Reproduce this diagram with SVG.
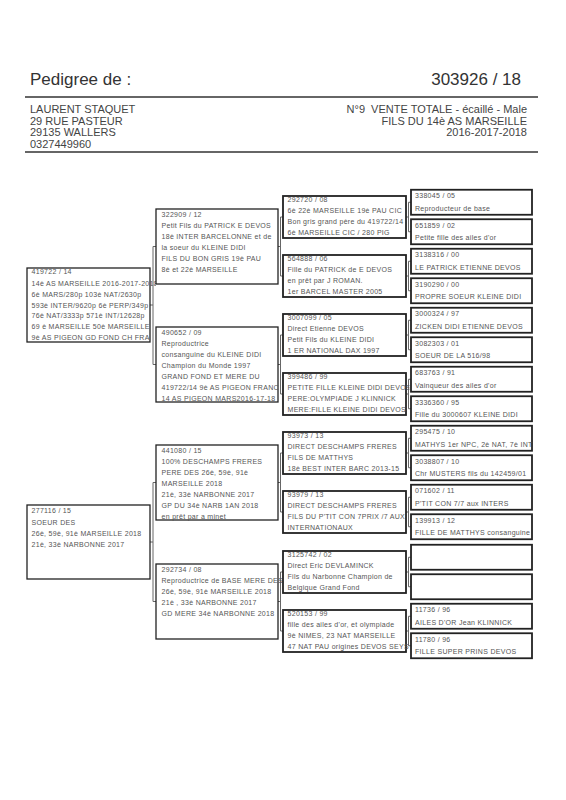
<svg xmlns="http://www.w3.org/2000/svg" width="566" height="800" viewBox="0 0 566 800">
<style>
.bg{fill:#fff}
.h1{font-family:"Liberation Sans",Arial,sans-serif;font-size:17px;fill:#333}
.h2{font-family:"Liberation Sans",Arial,sans-serif;font-size:11px;fill:#444;white-space:pre}
.rule{stroke:#333;stroke-width:1.3}
.t{font-family:"Liberation Sans",Arial,sans-serif;font-size:7px;letter-spacing:0.3px;fill:#555}
.b1{fill:#fff;stroke:#222;stroke-width:1.3}
.b3{fill:#fff;stroke:#222;stroke-width:1.8}
.c{stroke:#666;stroke-width:1;fill:none}
</style>
<defs>
<clipPath id="k1"><rect x="0" y="0" width="156" height="800"/></clipPath>
<clipPath id="k2"><rect x="0" y="0" width="283.5" height="800"/></clipPath>
<clipPath id="k3"><rect x="0" y="0" width="409.5" height="800"/></clipPath>
<clipPath id="k4"><rect x="0" y="0" width="533" height="800"/></clipPath>
</defs>
<rect class="bg" x="0" y="0" width="566" height="800"/>

<g id="header">
<text class="h1" x="30" y="85">Pedigree de :</text>
<text class="h1" x="521" y="85" text-anchor="end">303926 / 18</text>
<line class="rule" x1="25" y1="97" x2="538" y2="97"/>
<text class="h2" x="30" y="113">LAURENT STAQUET</text>
<text class="h2" x="30" y="124.5">29 RUE PASTEUR</text>
<text class="h2" x="30" y="136">29135 WALLERS</text>
<text class="h2" x="30" y="147.5">0327449960</text>
<text class="h2" x="527" y="113" text-anchor="end" xml:space="preserve">N°9  VENTE TOTALE - écaillé - Male</text>
<text class="h2" x="527" y="124.5" text-anchor="end">FILS DU 14è AS MARSEILLE</text>
<text class="h2" x="527" y="136" text-anchor="end">2016-2017-2018</text>
<line class="rule" x1="25" y1="152" x2="538" y2="152"/>
</g>

<g id="connectors">
<path class="c" d="M150 305H153M153 246.5V364.5M153 246.5H156M153 364.5H156"/>
<path class="c" d="M150 542H153M153 482.5V601.5M153 482.5H156M153 601.5H156"/>
<path class="c" d="M278 246.5H280.5M280.5 217V276M280.5 217H283M280.5 276H283"/>
<path class="c" d="M278 364.5H280.5M280.5 335V394M280.5 335H283M280.5 394H283"/>
<path class="c" d="M278 482.5H280.5M280.5 453V512M280.5 453H283M280.5 512H283"/>
<path class="c" d="M278 601.5H280.5M280.5 572V631M280.5 572H283M280.5 631H283"/>
<path class="c" d="M406 217H408.5M408.5 202.25V231.75M408.5 202.25H411M408.5 231.75H411"/>
<path class="c" d="M406 276H408.5M408.5 261.25V290.75M408.5 261.25H411M408.5 290.75H411"/>
<path class="c" d="M406 335H408.5M408.5 320.25V349.75M408.5 320.25H411M408.5 349.75H411"/>
<path class="c" d="M406 394H408.5M408.5 379.25V408.75M408.5 379.25H411M408.5 408.75H411"/>
<path class="c" d="M406 453H408.5M408.5 438.25V467.75M408.5 438.25H411M408.5 467.75H411"/>
<path class="c" d="M406 512H408.5M408.5 497.25V526.75M408.5 497.25H411M408.5 526.75H411"/>
<path class="c" d="M406 572H408.5M408.5 557.25V586.75M408.5 557.25H411M408.5 586.75H411"/>
<path class="c" d="M406 631H408.5M408.5 616.25V645.75M408.5 616.25H411M408.5 645.75H411"/>
</g>

<!-- Generation 1 -->
<g id="n419722">
<rect class="b1" x="27" y="268" width="123" height="74"/>
<g clip-path="url(#k1)">
<text class="t" x="31.5" y="274">419722 / 14</text>
<text class="t" x="31.5" y="286">14è AS MARSEILLE 2016-2017-2018</text>
<text class="t" x="31.5" y="296.8">6è MARS/280p 103è NAT/2630p</text>
<text class="t" x="31.5" y="307.6">593è INTER/9620p 6è PERP/349p</text>
<text class="t" x="31.5" y="318.4">76è NAT/3333p 571è INT/12628p</text>
<text class="t" x="31.5" y="329.2">69 è MARSEILLE 50è MARSEILLE</text>
<text class="t" x="31.5" y="340">9è AS PIGEON GD FOND CH FRA</text>
</g>
</g>
<g id="n277116">
<rect class="b1" x="27" y="505" width="123" height="74"/>
<text class="t" x="31.5" y="512.5">277116 / 15</text>
<text class="t" x="31.5" y="525">SOEUR DES</text>
<text class="t" x="31.5" y="535.8">26è, 59è, 91è MARSEILLE 2018</text>
<text class="t" x="31.5" y="546.6">21è, 33è NARBONNE 2017</text>
</g>

<!-- Generation 2 -->
<g id="n322909">
<rect class="b1" x="156" y="209" width="122" height="75"/>
<g clip-path="url(#k2)">
<text class="t" x="161.5" y="217">322909 / 12</text>
<text class="t" x="161.5" y="228">Petit Fils du PATRICK E DEVOS</text>
<text class="t" x="161.5" y="238.9">18è INTER BARCELONNE et de</text>
<text class="t" x="161.5" y="249.8">la soeur du KLEINE DIDI</text>
<text class="t" x="161.5" y="260.7">FILS DU BON GRIS 19è PAU</text>
<text class="t" x="161.5" y="271.6">8è et 22è MARSEILLE</text>
</g>
</g>
<g id="n490652">
<rect class="b1" x="156" y="327" width="122" height="75"/>
<g clip-path="url(#k2)">
<text class="t" x="161.5" y="335">490652 / 09</text>
<text class="t" x="161.5" y="346">Reproductrice</text>
<text class="t" x="161.5" y="356.9">consanguine du KLEINE DIDI</text>
<text class="t" x="161.5" y="367.8">Champion du Monde 1997</text>
<text class="t" x="161.5" y="378.7">GRAND FOND ET MERE DU</text>
<text class="t" x="161.5" y="389.6">419722/14 9è AS PIGEON FRANC</text>
<text class="t" x="161.5" y="400.5">14 AS PIGEON MARS2016-17-18</text>
</g>
</g>
<g id="n441080">
<rect class="b1" x="156" y="445" width="122" height="75"/>
<g clip-path="url(#k2)">
<text class="t" x="161.5" y="453">441080 / 15</text>
<text class="t" x="161.5" y="464">100% DESCHAMPS FRERES</text>
<text class="t" x="161.5" y="474.9">PERE DES 26è, 59è, 91è</text>
<text class="t" x="161.5" y="485.8">MARSEILLE 2018</text>
<text class="t" x="161.5" y="496.7">21è, 33è NARBONNE 2017</text>
<text class="t" x="161.5" y="507.6">GP DU 34è NARB 1AN 2018</text>
<text class="t" x="161.5" y="518.5">en prêt par a minet</text>
</g>
</g>
<g id="n292734">
<rect class="b1" x="156" y="564" width="122" height="75"/>
<g clip-path="url(#k2)">
<text class="t" x="161.5" y="572">292734 / 08</text>
<text class="t" x="161.5" y="583">Reproductrice de BASE MERE DES</text>
<text class="t" x="161.5" y="593.9">26è, 59è, 91è MARSEILLE 2018</text>
<text class="t" x="161.5" y="604.8">21è , 33è NARBONNE 2017</text>
<text class="t" x="161.5" y="615.7">GD MERE 34è NARBONNE 2018</text>
</g>
</g>

<!-- Generation 3 -->
<g id="n292720">
<rect class="b3" x="283" y="196" width="123" height="42"/>
<g clip-path="url(#k3)">
<text class="t" x="287.5" y="202">292720 / 08</text>
<text class="t" x="287.5" y="213.2">6è 22è MARSEILLE 19è PAU CIC</text>
<text class="t" x="287.5" y="224">Bon gris grand père du 419722/14</text>
<text class="t" x="287.5" y="234.8">6è MARSEILLE CIC / 280 PIG</text>
</g>
</g>
<g id="n564888">
<rect class="b3" x="283" y="255" width="123" height="42"/>
<text class="t" x="287.5" y="261">564888 / 06</text>
<text class="t" x="287.5" y="272.2">Fille du PATRICK de E DEVOS</text>
<text class="t" x="287.5" y="283">en prêt par J ROMAN.</text>
<text class="t" x="287.5" y="293.8">1er BARCEL MASTER 2005</text>
</g>
<g id="n3007099">
<rect class="b3" x="283" y="314" width="123" height="42"/>
<text class="t" x="287.5" y="320">3007099 / 05</text>
<text class="t" x="287.5" y="331.2">Direct Etienne DEVOS</text>
<text class="t" x="287.5" y="342">Petit Fils du KLEINE DIDI</text>
<text class="t" x="287.5" y="352.8">1 ER NATIONAL DAX 1997</text>
</g>
<g id="n399486">
<rect class="b3" x="283" y="373" width="123" height="42"/>
<g clip-path="url(#k3)">
<text class="t" x="287.5" y="379">399486 / 99</text>
<text class="t" x="287.5" y="390.2">PETITE FILLE KLEINE DIDI DEVOS</text>
<text class="t" x="287.5" y="401">PERE:OLYMPIADE J KLINNICK</text>
<text class="t" x="287.5" y="411.8">MERE:FILLE KLEINE DIDI DEVOS</text>
</g>
</g>
<g id="n93973">
<rect class="b3" x="283" y="432" width="123" height="42"/>
<text class="t" x="287.5" y="438">93973 / 13</text>
<text class="t" x="287.5" y="449.2">DIRECT DESCHAMPS FRERES</text>
<text class="t" x="287.5" y="460">FILS DE MATTHYS</text>
<text class="t" x="287.5" y="470.8">18è BEST INTER BARC 2013-15</text>
</g>
<g id="n93979">
<rect class="b3" x="283" y="491" width="123" height="42"/>
<g clip-path="url(#k3)">
<text class="t" x="287.5" y="497">93979 / 13</text>
<text class="t" x="287.5" y="508.2">DIRECT DESCHAMPS FRERES</text>
<text class="t" x="287.5" y="519">FILS DU P'TIT CON 7PRIX /7 AUX</text>
<text class="t" x="287.5" y="529.8">INTERNATIONAUX</text>
</g>
</g>
<g id="n3125742">
<rect class="b3" x="283" y="551" width="123" height="42"/>
<text class="t" x="287.5" y="557">3125742 / 02</text>
<text class="t" x="287.5" y="568.2">Direct Eric DEVLAMINCK</text>
<text class="t" x="287.5" y="579">Fils du Narbonne Champion de</text>
<text class="t" x="287.5" y="589.8">Belgique Grand Fond</text>
</g>
<g id="n520153">
<rect class="b3" x="283" y="610" width="123" height="42"/>
<g clip-path="url(#k3)">
<text class="t" x="287.5" y="616">520153 / 99</text>
<text class="t" x="287.5" y="627.2">fille des ailes d'or, et olympiade</text>
<text class="t" x="287.5" y="638">9è NIMES, 23 NAT MARSEILLE</text>
<text class="t" x="287.5" y="648.8">47 NAT PAU origines DEVOS SEYS</text>
</g>
</g>

<!-- Generation 4 -->
<g id="n338045"><rect class="b3" x="411" y="189.75" width="121" height="25"/><text class="t" x="415" y="198.25">338045 / 05</text><text class="t" x="415" y="210.75">Reproducteur de base</text></g>
<g id="n651859"><rect class="b3" x="411" y="219.25" width="121" height="25"/><text class="t" x="415" y="227.75">651859 / 02</text><text class="t" x="415" y="240.25">Petite fille des ailes d'or</text></g>
<g id="n3138316"><rect class="b3" x="411" y="248.75" width="121" height="25"/><text class="t" x="415" y="257.25">3138316 / 00</text><text class="t" x="415" y="269.75">LE PATRICK ETIENNE DEVOS</text></g>
<g id="n3190290"><rect class="b3" x="411" y="278.25" width="121" height="25"/><text class="t" x="415" y="286.75">3190290 / 00</text><text class="t" x="415" y="299.25">PROPRE SOEUR KLEINE DIDI</text></g>
<g id="n3000324"><rect class="b3" x="411" y="307.75" width="121" height="25"/><text class="t" x="415" y="316.25">3000324 / 97</text><text class="t" x="415" y="328.75">ZICKEN DIDI ETIENNE DEVOS</text></g>
<g id="n3082303"><rect class="b3" x="411" y="337.25" width="121" height="25"/><text class="t" x="415" y="345.75">3082303 / 01</text><text class="t" x="415" y="358.25">SOEUR DE LA 516/98</text></g>
<g id="n683763"><rect class="b3" x="411" y="366.75" width="121" height="25"/><text class="t" x="415" y="375.25">683763 / 91</text><text class="t" x="415" y="387.75">Vainqueur des ailes d'or</text></g>
<g id="n3336360"><rect class="b3" x="411" y="396.25" width="121" height="25"/><text class="t" x="415" y="404.75">3336360 / 95</text><text class="t" x="415" y="417.25">Fille du 3000607 KLEINE DIDI</text></g>
<g id="n295475"><rect class="b3" x="411" y="425.75" width="121" height="25"/><g clip-path="url(#k4)"><text class="t" x="415" y="434.25">295475 / 10</text><text class="t" x="415" y="446.75">MATHYS 1er NPC, 2è NAT, 7è INT</text></g></g>
<g id="n3038807"><rect class="b3" x="411" y="455.25" width="121" height="25"/><text class="t" x="415" y="463.75">3038807 / 10</text><text class="t" x="415" y="476.25">Chr MUSTERS fils du 142459/01</text></g>
<g id="n071602"><rect class="b3" x="411" y="484.75" width="121" height="25"/><text class="t" x="415" y="493.25">071602 / 11</text><text class="t" x="415" y="505.75">P'TIT CON 7/7 aux INTERS</text></g>
<g id="n139913"><rect class="b3" x="411" y="514.25" width="121" height="25"/><g clip-path="url(#k4)"><text class="t" x="415" y="522.75">139913 / 12</text><text class="t" x="415" y="535.25">FILLE DE MATTHYS consanguine</text></g></g>
<g id="nEmpty1"><rect class="b3" x="411" y="544.75" width="121" height="25"/></g>
<g id="nEmpty2"><rect class="b3" x="411" y="574.25" width="121" height="25"/></g>
<g id="n11736"><rect class="b3" x="411" y="603.75" width="121" height="25"/><text class="t" x="415" y="612.25">11736 / 96</text><text class="t" x="415" y="624.75">AILES D'OR Jean KLINNICK</text></g>
<g id="n11780"><rect class="b3" x="411" y="633.25" width="121" height="25"/><text class="t" x="415" y="641.75">11780 / 96</text><text class="t" x="415" y="654.25">FILLE SUPER PRINS DEVOS</text></g>
</svg>
